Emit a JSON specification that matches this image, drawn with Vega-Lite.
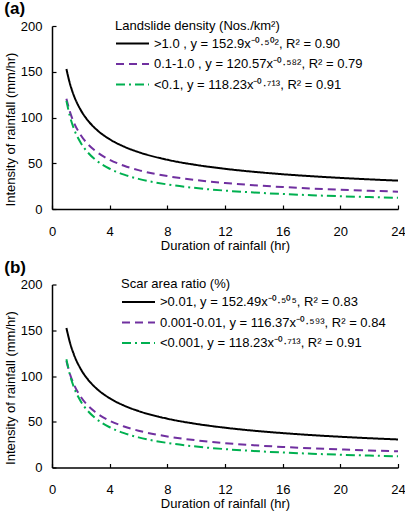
{
  "$schema": "https://vega.github.io/schema/vega-lite/v6.json",
  "padding": {"left": 4, "top": 0, "right": 2, "bottom": 2},
  "background": "white",
  "config": {
    "font": "Liberation Sans",
    "view": {"stroke": null},
    "axis": {
      "grid": false,
      "domainColor": "black",
      "domainWidth": 1.5,
      "tickColor": "black",
      "tickWidth": 1.2,
      "tickSize": -4,
      "labelFlush": false,
      "labelColor": "black",
      "labelFontSize": 13,
      "titleColor": "black",
      "titleFontSize": 13,
      "titleFontWeight": "normal"
    },
    "legend": {
      "labelFontSize": 13,
      "titleFontSize": 13,
      "titleFontWeight": "normal",
      "labelColor": "black",
      "titleColor": "black",
      "labelLimit": 0,
      "titleLimit": 0
    },
    "title": {"fontSize": 17, "fontWeight": "bold", "anchor": "start", "frame": "bounds", "color": "black", "offset": 1.5}
  },
  "datasets": {
    "a": [
      {"s": ">1.0 , y = 152.9x⁻⁰·⁵⁰², R² = 0.90", "x": 1, "y": 152.9},
      {"s": ">1.0 , y = 152.9x⁻⁰·⁵⁰², R² = 0.90", "x": 1.25, "y": 136.70},
      {"s": ">1.0 , y = 152.9x⁻⁰·⁵⁰², R² = 0.90", "x": 1.5, "y": 124.74},
      {"s": ">1.0 , y = 152.9x⁻⁰·⁵⁰², R² = 0.90", "x": 2, "y": 107.97},
      {"s": ">1.0 , y = 152.9x⁻⁰·⁵⁰², R² = 0.90", "x": 2.5, "y": 96.53},
      {"s": ">1.0 , y = 152.9x⁻⁰·⁵⁰², R² = 0.90", "x": 3, "y": 88.08},
      {"s": ">1.0 , y = 152.9x⁻⁰·⁵⁰², R² = 0.90", "x": 4, "y": 76.24},
      {"s": ">1.0 , y = 152.9x⁻⁰·⁵⁰², R² = 0.90", "x": 5, "y": 68.16},
      {"s": ">1.0 , y = 152.9x⁻⁰·⁵⁰², R² = 0.90", "x": 6, "y": 62.20},
      {"s": ">1.0 , y = 152.9x⁻⁰·⁵⁰², R² = 0.90", "x": 8, "y": 53.83},
      {"s": ">1.0 , y = 152.9x⁻⁰·⁵⁰², R² = 0.90", "x": 10, "y": 48.13},
      {"s": ">1.0 , y = 152.9x⁻⁰·⁵⁰², R² = 0.90", "x": 12, "y": 43.92},
      {"s": ">1.0 , y = 152.9x⁻⁰·⁵⁰², R² = 0.90", "x": 14, "y": 40.65},
      {"s": ">1.0 , y = 152.9x⁻⁰·⁵⁰², R² = 0.90", "x": 16, "y": 38.01},
      {"s": ">1.0 , y = 152.9x⁻⁰·⁵⁰², R² = 0.90", "x": 18, "y": 35.83},
      {"s": ">1.0 , y = 152.9x⁻⁰·⁵⁰², R² = 0.90", "x": 20, "y": 33.99},
      {"s": ">1.0 , y = 152.9x⁻⁰·⁵⁰², R² = 0.90", "x": 22, "y": 32.40},
      {"s": ">1.0 , y = 152.9x⁻⁰·⁵⁰², R² = 0.90", "x": 24, "y": 31.01},
      {"s": "0.1-1.0 , y = 120.57x⁻⁰·⁵⁸², R² = 0.79", "x": 1, "y": 120.57},
      {"s": "0.1-1.0 , y = 120.57x⁻⁰·⁵⁸², R² = 0.79", "x": 1.25, "y": 105.89},
      {"s": "0.1-1.0 , y = 120.57x⁻⁰·⁵⁸², R² = 0.79", "x": 1.5, "y": 95.23},
      {"s": "0.1-1.0 , y = 120.57x⁻⁰·⁵⁸², R² = 0.79", "x": 2, "y": 80.55},
      {"s": "0.1-1.0 , y = 120.57x⁻⁰·⁵⁸², R² = 0.79", "x": 2.5, "y": 70.74},
      {"s": "0.1-1.0 , y = 120.57x⁻⁰·⁵⁸², R² = 0.79", "x": 3, "y": 63.61},
      {"s": "0.1-1.0 , y = 120.57x⁻⁰·⁵⁸², R² = 0.79", "x": 4, "y": 53.81},
      {"s": "0.1-1.0 , y = 120.57x⁻⁰·⁵⁸², R² = 0.79", "x": 5, "y": 47.25},
      {"s": "0.1-1.0 , y = 120.57x⁻⁰·⁵⁸², R² = 0.79", "x": 6, "y": 42.50},
      {"s": "0.1-1.0 , y = 120.57x⁻⁰·⁵⁸², R² = 0.79", "x": 8, "y": 35.95},
      {"s": "0.1-1.0 , y = 120.57x⁻⁰·⁵⁸², R² = 0.79", "x": 10, "y": 31.57},
      {"s": "0.1-1.0 , y = 120.57x⁻⁰·⁵⁸², R² = 0.79", "x": 12, "y": 28.39},
      {"s": "0.1-1.0 , y = 120.57x⁻⁰·⁵⁸², R² = 0.79", "x": 14, "y": 25.95},
      {"s": "0.1-1.0 , y = 120.57x⁻⁰·⁵⁸², R² = 0.79", "x": 16, "y": 24.01},
      {"s": "0.1-1.0 , y = 120.57x⁻⁰·⁵⁸², R² = 0.79", "x": 18, "y": 22.42},
      {"s": "0.1-1.0 , y = 120.57x⁻⁰·⁵⁸², R² = 0.79", "x": 20, "y": 21.09},
      {"s": "0.1-1.0 , y = 120.57x⁻⁰·⁵⁸², R² = 0.79", "x": 22, "y": 19.95},
      {"s": "0.1-1.0 , y = 120.57x⁻⁰·⁵⁸², R² = 0.79", "x": 24, "y": 18.97},
      {"s": "<0.1, y = 118.23x⁻⁰·⁷¹³, R² = 0.91", "x": 1, "y": 118.23},
      {"s": "<0.1, y = 118.23x⁻⁰·⁷¹³, R² = 0.91", "x": 1.25, "y": 100.84},
      {"s": "<0.1, y = 118.23x⁻⁰·⁷¹³, R² = 0.91", "x": 1.5, "y": 88.55},
      {"s": "<0.1, y = 118.23x⁻⁰·⁷¹³, R² = 0.91", "x": 2, "y": 72.13},
      {"s": "<0.1, y = 118.23x⁻⁰·⁷¹³, R² = 0.91", "x": 2.5, "y": 61.52},
      {"s": "<0.1, y = 118.23x⁻⁰·⁷¹³, R² = 0.91", "x": 3, "y": 54.02},
      {"s": "<0.1, y = 118.23x⁻⁰·⁷¹³, R² = 0.91", "x": 4, "y": 44.00},
      {"s": "<0.1, y = 118.23x⁻⁰·⁷¹³, R² = 0.91", "x": 5, "y": 37.53},
      {"s": "<0.1, y = 118.23x⁻⁰·⁷¹³, R² = 0.91", "x": 6, "y": 32.95},
      {"s": "<0.1, y = 118.23x⁻⁰·⁷¹³, R² = 0.91", "x": 8, "y": 26.84},
      {"s": "<0.1, y = 118.23x⁻⁰·⁷¹³, R² = 0.91", "x": 10, "y": 22.89},
      {"s": "<0.1, y = 118.23x⁻⁰·⁷¹³, R² = 0.91", "x": 12, "y": 20.10},
      {"s": "<0.1, y = 118.23x⁻⁰·⁷¹³, R² = 0.91", "x": 14, "y": 18.01},
      {"s": "<0.1, y = 118.23x⁻⁰·⁷¹³, R² = 0.91", "x": 16, "y": 16.38},
      {"s": "<0.1, y = 118.23x⁻⁰·⁷¹³, R² = 0.91", "x": 18, "y": 15.06},
      {"s": "<0.1, y = 118.23x⁻⁰·⁷¹³, R² = 0.91", "x": 20, "y": 13.97},
      {"s": "<0.1, y = 118.23x⁻⁰·⁷¹³, R² = 0.91", "x": 22, "y": 13.05},
      {"s": "<0.1, y = 118.23x⁻⁰·⁷¹³, R² = 0.91", "x": 24, "y": 12.26}
    ],
    "b": [
      {"s": ">0.01, y = 152.49x⁻⁰·⁵⁰⁵, R² = 0.83", "x": 1, "y": 152.49},
      {"s": ">0.01, y = 152.49x⁻⁰·⁵⁰⁵, R² = 0.83", "x": 1.25, "y": 136.24},
      {"s": ">0.01, y = 152.49x⁻⁰·⁵⁰⁵, R² = 0.83", "x": 1.5, "y": 124.25},
      {"s": ">0.01, y = 152.49x⁻⁰·⁵⁰⁵, R² = 0.83", "x": 2, "y": 107.45},
      {"s": ">0.01, y = 152.49x⁻⁰·⁵⁰⁵, R² = 0.83", "x": 2.5, "y": 96.00},
      {"s": ">0.01, y = 152.49x⁻⁰·⁵⁰⁵, R² = 0.83", "x": 3, "y": 87.56},
      {"s": ">0.01, y = 152.49x⁻⁰·⁵⁰⁵, R² = 0.83", "x": 4, "y": 75.72},
      {"s": ">0.01, y = 152.49x⁻⁰·⁵⁰⁵, R² = 0.83", "x": 5, "y": 67.65},
      {"s": ">0.01, y = 152.49x⁻⁰·⁵⁰⁵, R² = 0.83", "x": 6, "y": 61.70},
      {"s": ">0.01, y = 152.49x⁻⁰·⁵⁰⁵, R² = 0.83", "x": 8, "y": 53.36},
      {"s": ">0.01, y = 152.49x⁻⁰·⁵⁰⁵, R² = 0.83", "x": 10, "y": 47.67},
      {"s": ">0.01, y = 152.49x⁻⁰·⁵⁰⁵, R² = 0.83", "x": 12, "y": 43.48},
      {"s": ">0.01, y = 152.49x⁻⁰·⁵⁰⁵, R² = 0.83", "x": 14, "y": 40.22},
      {"s": ">0.01, y = 152.49x⁻⁰·⁵⁰⁵, R² = 0.83", "x": 16, "y": 37.60},
      {"s": ">0.01, y = 152.49x⁻⁰·⁵⁰⁵, R² = 0.83", "x": 18, "y": 35.43},
      {"s": ">0.01, y = 152.49x⁻⁰·⁵⁰⁵, R² = 0.83", "x": 20, "y": 33.59},
      {"s": ">0.01, y = 152.49x⁻⁰·⁵⁰⁵, R² = 0.83", "x": 22, "y": 32.01},
      {"s": ">0.01, y = 152.49x⁻⁰·⁵⁰⁵, R² = 0.83", "x": 24, "y": 30.64},
      {"s": "0.001-0.01, y = 116.37x⁻⁰·⁵⁹³, R² = 0.84", "x": 1, "y": 116.37},
      {"s": "0.001-0.01, y = 116.37x⁻⁰·⁵⁹³, R² = 0.84", "x": 1.25, "y": 101.95},
      {"s": "0.001-0.01, y = 116.37x⁻⁰·⁵⁹³, R² = 0.84", "x": 1.5, "y": 91.50},
      {"s": "0.001-0.01, y = 116.37x⁻⁰·⁵⁹³, R² = 0.84", "x": 2, "y": 77.15},
      {"s": "0.001-0.01, y = 116.37x⁻⁰·⁵⁹³, R² = 0.84", "x": 2.5, "y": 67.59},
      {"s": "0.001-0.01, y = 116.37x⁻⁰·⁵⁹³, R² = 0.84", "x": 3, "y": 60.66},
      {"s": "0.001-0.01, y = 116.37x⁻⁰·⁵⁹³, R² = 0.84", "x": 4, "y": 51.15},
      {"s": "0.001-0.01, y = 116.37x⁻⁰·⁵⁹³, R² = 0.84", "x": 5, "y": 44.81},
      {"s": "0.001-0.01, y = 116.37x⁻⁰·⁵⁹³, R² = 0.84", "x": 6, "y": 40.22},
      {"s": "0.001-0.01, y = 116.37x⁻⁰·⁵⁹³, R² = 0.84", "x": 8, "y": 33.91},
      {"s": "0.001-0.01, y = 116.37x⁻⁰·⁵⁹³, R² = 0.84", "x": 10, "y": 29.71},
      {"s": "0.001-0.01, y = 116.37x⁻⁰·⁵⁹³, R² = 0.84", "x": 12, "y": 26.66},
      {"s": "0.001-0.01, y = 116.37x⁻⁰·⁵⁹³, R² = 0.84", "x": 14, "y": 24.33},
      {"s": "0.001-0.01, y = 116.37x⁻⁰·⁵⁹³, R² = 0.84", "x": 16, "y": 22.48},
      {"s": "0.001-0.01, y = 116.37x⁻⁰·⁵⁹³, R² = 0.84", "x": 18, "y": 20.96},
      {"s": "0.001-0.01, y = 116.37x⁻⁰·⁵⁹³, R² = 0.84", "x": 20, "y": 19.69},
      {"s": "0.001-0.01, y = 116.37x⁻⁰·⁵⁹³, R² = 0.84", "x": 22, "y": 18.61},
      {"s": "0.001-0.01, y = 116.37x⁻⁰·⁵⁹³, R² = 0.84", "x": 24, "y": 17.68},
      {"s": "<0.001, y = 118.23x⁻⁰·⁷¹³, R² = 0.91", "x": 1, "y": 118.23},
      {"s": "<0.001, y = 118.23x⁻⁰·⁷¹³, R² = 0.91", "x": 1.25, "y": 100.84},
      {"s": "<0.001, y = 118.23x⁻⁰·⁷¹³, R² = 0.91", "x": 1.5, "y": 88.55},
      {"s": "<0.001, y = 118.23x⁻⁰·⁷¹³, R² = 0.91", "x": 2, "y": 72.13},
      {"s": "<0.001, y = 118.23x⁻⁰·⁷¹³, R² = 0.91", "x": 2.5, "y": 61.52},
      {"s": "<0.001, y = 118.23x⁻⁰·⁷¹³, R² = 0.91", "x": 3, "y": 54.02},
      {"s": "<0.001, y = 118.23x⁻⁰·⁷¹³, R² = 0.91", "x": 4, "y": 44.00},
      {"s": "<0.001, y = 118.23x⁻⁰·⁷¹³, R² = 0.91", "x": 5, "y": 37.53},
      {"s": "<0.001, y = 118.23x⁻⁰·⁷¹³, R² = 0.91", "x": 6, "y": 32.95},
      {"s": "<0.001, y = 118.23x⁻⁰·⁷¹³, R² = 0.91", "x": 8, "y": 26.84},
      {"s": "<0.001, y = 118.23x⁻⁰·⁷¹³, R² = 0.91", "x": 10, "y": 22.89},
      {"s": "<0.001, y = 118.23x⁻⁰·⁷¹³, R² = 0.91", "x": 12, "y": 20.10},
      {"s": "<0.001, y = 118.23x⁻⁰·⁷¹³, R² = 0.91", "x": 14, "y": 18.01},
      {"s": "<0.001, y = 118.23x⁻⁰·⁷¹³, R² = 0.91", "x": 16, "y": 16.38},
      {"s": "<0.001, y = 118.23x⁻⁰·⁷¹³, R² = 0.91", "x": 18, "y": 15.06},
      {"s": "<0.001, y = 118.23x⁻⁰·⁷¹³, R² = 0.91", "x": 20, "y": 13.97},
      {"s": "<0.001, y = 118.23x⁻⁰·⁷¹³, R² = 0.91", "x": 22, "y": 13.05},
      {"s": "<0.001, y = 118.23x⁻⁰·⁷¹³, R² = 0.91", "x": 24, "y": 12.26}
    ]
  },
  "vconcat": [
    {
      "title": {"text": "(a)"},
      "width": 346,
      "height": 183,
      "data": {"name": "a"},
      "mark": {"type": "line", "strokeWidth": 2, "interpolate": "monotone"},
      "encoding": {
        "x": {"field": "x", "type": "quantitative", "scale": {"domain": [0, 24], "nice": false}, "axis": {"values": [0, 4, 8, 12, 16, 20, 24], "title": "Duration of rainfall (hr)", "labelPadding": 20, "titlePadding": 1}},
        "y": {"field": "y", "type": "quantitative", "scale": {"domain": [0, 200], "nice": false}, "axis": {"values": [0, 50, 100, 150, 200], "title": "Intensity of rainfall (mm/hr)", "labelPadding": 14, "titlePadding": 3, "titleY": 103}},
        "color": {
          "field": "s", "type": "nominal",
          "scale": {"domain": [">1.0 , y = 152.9x⁻⁰·⁵⁰², R² = 0.90", "0.1-1.0 , y = 120.57x⁻⁰·⁵⁸², R² = 0.79", "<0.1, y = 118.23x⁻⁰·⁷¹³, R² = 0.91"], "range": ["#000000", "#7030A0", "#00B050"]},
          "legend": {"title": "Landslide density (Nos./km²)", "orient": "none", "legendX": 63, "legendY": -6.5, "symbolType": "M-1,0H2.3", "symbolSize": 400, "symbolStrokeWidth": 2, "rowPadding": 2.5, "labelOffset": 17, "titlePadding": 0}
        },
        "strokeDash": {
          "field": "s", "type": "nominal",
          "scale": {"domain": [">1.0 , y = 152.9x⁻⁰·⁵⁰², R² = 0.90", "0.1-1.0 , y = 120.57x⁻⁰·⁵⁸², R² = 0.79", "<0.1, y = 118.23x⁻⁰·⁷¹³, R² = 0.91"], "range": [[1, 0], [8, 5], [9, 4, 2, 4]]},
          "legend": {"title": "Landslide density (Nos./km²)", "orient": "none", "legendX": 63, "legendY": -6.5, "symbolType": "M-1,0H2.3", "symbolSize": 400, "symbolStrokeWidth": 2, "rowPadding": 2.5, "labelOffset": 17, "titlePadding": 0}
        }
      }
    },
    {
      "title": {"text": "(b)"},
      "width": 346,
      "height": 183,
      "data": {"name": "b"},
      "mark": {"type": "line", "strokeWidth": 2, "interpolate": "monotone"},
      "encoding": {
        "x": {"field": "x", "type": "quantitative", "scale": {"domain": [0, 24], "nice": false}, "axis": {"values": [0, 4, 8, 12, 16, 20, 24], "title": "Duration of rainfall (hr)", "labelPadding": 20, "titlePadding": 1}},
        "y": {"field": "y", "type": "quantitative", "scale": {"domain": [0, 200], "nice": false}, "axis": {"values": [0, 50, 100, 150, 200], "title": "Intensity of rainfall (mm/hr)", "labelPadding": 14, "titlePadding": 3, "titleY": 103}},
        "color": {
          "field": "s", "type": "nominal",
          "scale": {"domain": [">0.01, y = 152.49x⁻⁰·⁵⁰⁵, R² = 0.83", "0.001-0.01, y = 116.37x⁻⁰·⁵⁹³, R² = 0.84", "<0.001, y = 118.23x⁻⁰·⁷¹³, R² = 0.91"], "range": ["#000000", "#7030A0", "#00B050"]},
          "legend": {"title": "Scar area ratio (%)", "orient": "none", "legendX": 69, "legendY": -6.5, "symbolType": "M-1,0H2.3", "symbolSize": 400, "symbolStrokeWidth": 2, "rowPadding": 2.5, "labelOffset": 17, "titlePadding": 0}
        },
        "strokeDash": {
          "field": "s", "type": "nominal",
          "scale": {"domain": [">0.01, y = 152.49x⁻⁰·⁵⁰⁵, R² = 0.83", "0.001-0.01, y = 116.37x⁻⁰·⁵⁹³, R² = 0.84", "<0.001, y = 118.23x⁻⁰·⁷¹³, R² = 0.91"], "range": [[1, 0], [8, 5], [9, 4, 2, 4]]},
          "legend": {"title": "Scar area ratio (%)", "orient": "none", "legendX": 69, "legendY": -6.5, "symbolType": "M-1,0H2.3", "symbolSize": 400, "symbolStrokeWidth": 2, "rowPadding": 2.5, "labelOffset": 17, "titlePadding": 0}
        }
      }
    }
  ],
  "spacing": 6.5,
  "resolve": {"scale": {"color": "independent", "strokeDash": "independent"}}
}
